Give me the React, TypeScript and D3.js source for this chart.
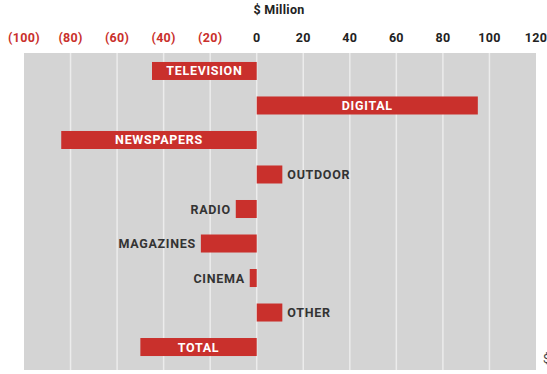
import React from 'react';
import * as d3 from 'd3';

// $ million change by medium
const categories = ['TELEVISION', 'DIGITAL', 'NEWSPAPERS', 'OUTDOOR', 'RADIO', 'MAGAZINES', 'CINEMA', 'OTHER', 'TOTAL'];
const values = [-45, 95, -84, 11, -9, -24, -3, 11, -50];
// labels that sit inside the bar
const insideLabels = ['TELEVISION', 'DIGITAL', 'NEWSPAPERS', 'TOTAL'];
const tickValues = [-100, -80, -60, -40, -20, 0, 20, 40, 60, 80, 100, 120];

const width = 547;
const height = 374;
const red = '#c9302c';
const dark = '#333333';
const font = 'Roboto, "DejaVu Sans", sans-serif';

const App = () => {
  const x = d3.scaleLinear().domain([-100, 120]).range([24, 536]);
  const y = d3.scaleBand<string>()
    .domain(categories)
    .range([53, 365])
    .paddingInner(0.478)
    .paddingOuter(0.26);

  const fmt = (v: number) => (v < 0 ? `(${Math.abs(v)})` : `${v}`);

  return (
    <svg width={width} height={height} style={{ position: 'absolute', left: 0, top: 0 }} fontFamily={font}>
      <rect x={0} y={0} width={width} height={height} fill="#fff" />
      <text x={279} y={14} textAnchor="middle" fontSize={12.5} fontWeight={700} fill="#222" letterSpacing={0.3}>$ Million</text>

      {tickValues.map(t => (
        <text key={t} x={x(t)} y={42} textAnchor="middle" fontSize={12.5} fontWeight={700}
          fill={t < 0 ? red : '#222'} letterSpacing={0.3}>{fmt(t)}</text>
      ))}

      <rect x={x(-100)} y={53} width={x(120) - x(-100)} height={317} fill="#d4d4d4" />
      {tickValues.slice(1, -1).map(t => (
        <line key={t} x1={x(t)} x2={x(t)} y1={53} y2={370} stroke="#ececec" strokeWidth={1.5} />
      ))}

      {categories.map((c, i) => {
        const v = values[i];
        const x0 = Math.min(x(0), x(v));
        const x1 = Math.max(x(0), x(v));
        const yy = y(c) as number;
        const bw = y.bandwidth();
        const inside = insideLabels.includes(c);
        let lx = (x0 + x1) / 2;
        let anchor: 'middle' | 'start' | 'end' = 'middle';
        if (!inside) {
          if (v >= 0) { lx = x1 + 5; anchor = 'start'; } else { lx = x0 - 5; anchor = 'end'; }
        }
        return (
          <g key={c}>
            <rect x={x0} y={yy} width={x1 - x0} height={bw} fill={red} />
            <text x={lx} y={yy + bw / 2} dy="0.36em" textAnchor={anchor} fontSize={12.5} fontWeight={700}
              fill={inside ? '#fff' : dark} letterSpacing={0.7}>{c}</text>
          </g>
        );
      })}

      <text x={543} y={363} fontSize={12} fill="#444">$</text>
    </svg>
  );
};

export default App;
